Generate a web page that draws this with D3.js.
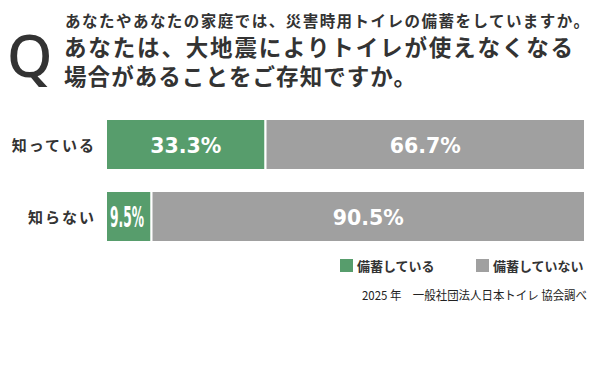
<!DOCTYPE html>
<html>
<head>
<meta charset="utf-8">
<script src="https://cdn.jsdelivr.net/npm/d3@7"></script>
<style>
  body { margin: 0; background: #fff; }
  text { font-family: "Noto Sans CJK JP", "Noto Sans", sans-serif; }
</style>
</head>
<body>
<div id="chart"></div>
<script>
// data
const categories = ["知っている", "知らない"];
const series = ["備蓄している", "備蓄していない"];
const stocked = [33.3, 9.5];
const notStocked = [66.7, 90.5];
const titleLines = [
	"あなたやあなたの家庭では、災害時用トイレの備蓄をしていますか。",
	"あなたは、大地震によりトイレが使えなくなる",
	"場合があることをご存知ですか。"
];
const sourceNote = "2025 年　一般社団法人日本トイレ 協会調べ";

const w = 601, h = 388;
const colors = ["#579d6c", "#a0a0a0"];
const dark = "#333333";

const svg = d3.select("#chart")
	.append("svg")
	.attr("width", w)
	.attr("height", h);

// Title
svg.append("text")
	.text("Q")
	.attr("x", 7)
	.attr("y", 77)
	.attr("fill", dark)
	.style("font-family", "'Noto Sans', sans-serif")
	.style("font-weight", 500)
	.style("font-size", "58px");

svg.append("text")
	.text(titleLines[0])
	.attr("x", 65)
	.attr("y", 20)
	.attr("dominant-baseline", "central")
	.attr("fill", dark)
	.attr("textLength", 524)
	.attr("lengthAdjust", "spacing")
	.style("font-weight", 700)
	.style("font-size", "15.5px");

svg.append("text")
	.text(titleLines[1])
	.attr("x", 64)
	.attr("y", 46)
	.attr("dominant-baseline", "central")
	.attr("fill", dark)
	.attr("textLength", 509)
	.attr("lengthAdjust", "spacing")
	.style("font-weight", 700)
	.style("font-size", "22.5px");

svg.append("text")
	.text(titleLines[2])
	.attr("x", 64)
	.attr("y", 75)
	.attr("dominant-baseline", "central")
	.attr("fill", dark)
	.attr("textLength", 352)
	.attr("lengthAdjust", "spacing")
	.style("font-weight", 700)
	.style("font-size", "22.5px");

// Scales
const xScale = d3.scaleLinear()
	.domain([0, 100])
	.range([106, 585]);

const yScale = d3.scaleBand()
	.domain(categories)
	.range([108.5, 252.5])
	.paddingInner(21 / 72)
	.paddingOuter(21 / 144);

const stack = categories.map((c, i) => {
	const vals = [stocked[i], notStocked[i]];
	let acc = 0;
	return vals.map((v, j) => {
		const seg = { cat: c, series: j, v: v, x0: acc, x1: acc + v };
		acc += v;
		return seg;
	});
}).flat();

// Bars
svg.append("g")
	.selectAll("rect")
	.data(stack)
	.enter()
	.append("rect")
	.attr("x", d => xScale(d.x0))
	.attr("y", d => yScale(d.cat))
	.attr("width", d => xScale(d.x1) - xScale(d.x0))
	.attr("height", yScale.bandwidth())
	.attr("fill", d => colors[d.series])
	.attr("stroke", "#fff")
	.attr("stroke-width", 2);

// Value labels
svg.append("g")
	.selectAll("text")
	.data(stack)
	.enter()
	.append("text")
	.text(d => d.v.toFixed(1) + "%")
	.attr("x", d => d.v < 15 ? xScale(d.x0) + 4 : (xScale(d.x0) + xScale(d.x1)) / 2)
	.attr("y", d => yScale(d.cat) + yScale.bandwidth() / 2 + 1)
	.attr("text-anchor", d => d.v < 15 ? "start" : "middle")
	.attr("dominant-baseline", "central")
	.attr("fill", "#fff")
	.each(function (d) {
		if (d.v < 15) {
			d3.select(this)
				.attr("textLength", 34)
				.attr("lengthAdjust", "spacingAndGlyphs")
				.style("font-size", "28px");
		} else {
			d3.select(this).style("font-size", "20.5px");
		}
	})
	.style("font-family", "'DejaVu Sans', sans-serif")
	.style("font-weight", 700);

// Category labels
svg.append("g")
	.selectAll("text")
	.data(categories)
	.enter()
	.append("text")
	.text(d => d)
	.attr("x", 96)
	.attr("y", d => yScale(d) + yScale.bandwidth() / 2)
	.attr("text-anchor", "end")
	.attr("dominant-baseline", "central")
	.attr("fill", dark)
	.style("letter-spacing", "2px")
	.style("font-weight", 700)
	.style("font-size", "15px");

// Legend
const legendX = [340, 476];
const legend = svg.append("g")
	.selectAll("g")
	.data(series)
	.enter()
	.append("g")
	.attr("transform", (d, i) => `translate(${legendX[i]}, 259)`);

legend.append("rect")
	.attr("width", 13)
	.attr("height", 13)
	.attr("fill", (d, i) => colors[i]);

legend.append("text")
	.text(d => d)
	.attr("x", 17)
	.attr("y", 6.5)
	.attr("dominant-baseline", "central")
	.attr("fill", dark)
	.style("font-weight", 700)
	.style("font-size", "13px");

// Source
svg.append("text")
	.text(sourceNote)
	.attr("x", 362)
	.attr("y", 294)
	.attr("dominant-baseline", "central")
	.attr("fill", "#222")
	.attr("textLength", 225)
	.attr("lengthAdjust", "spacingAndGlyphs")
	.style("font-size", "12px");
</script>
</body>
</html>
